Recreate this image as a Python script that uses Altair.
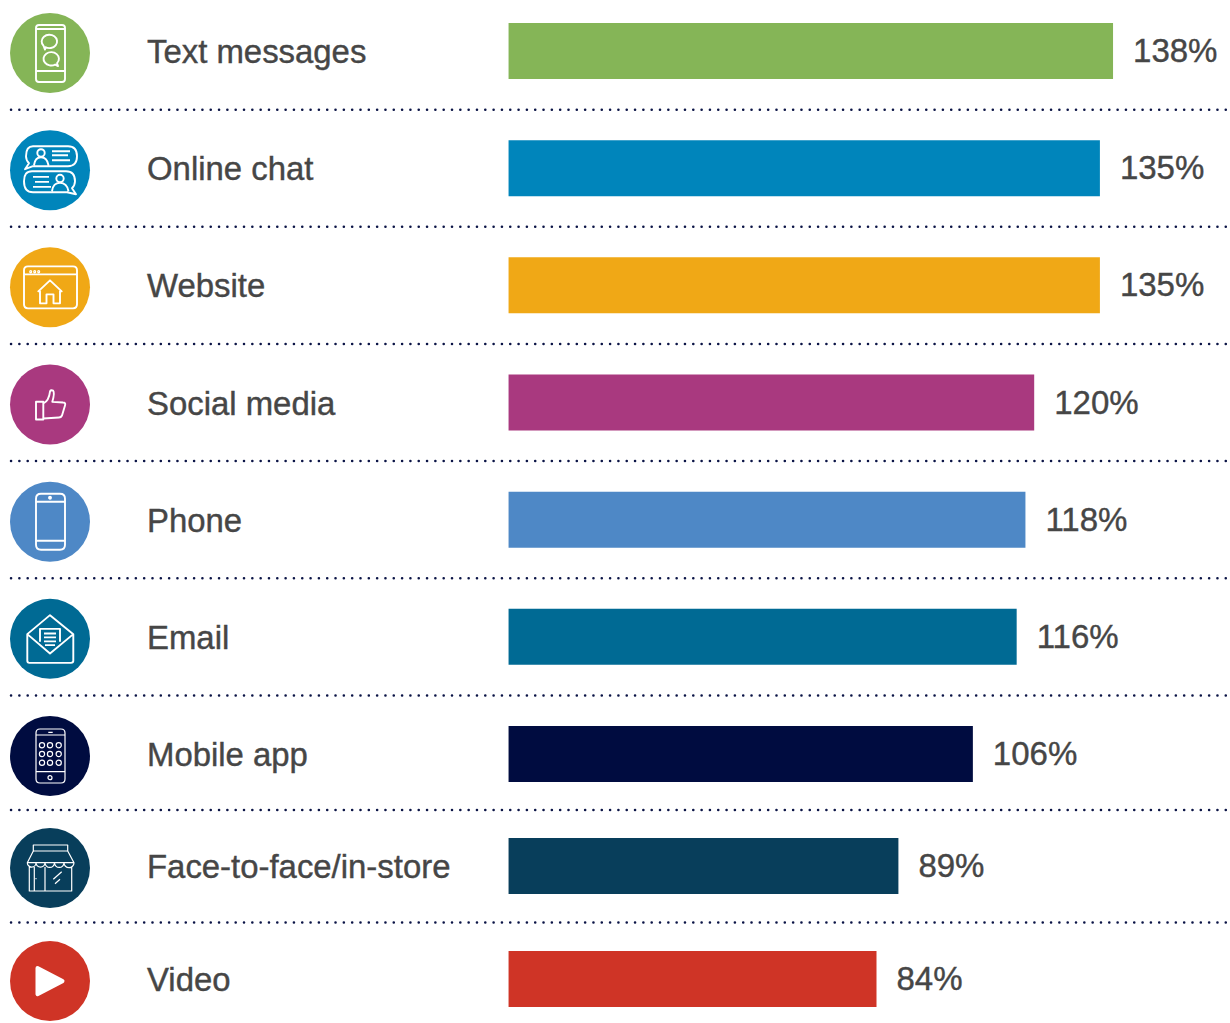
import altair as alt
import pandas as pd

# Chart values
channels = ["Text messages", "Online chat", "Website", "Social media", "Phone",
            "Email", "Mobile app", "Face-to-face/in-store", "Video"]
percent = [138, 135, 135, 120, 118, 116, 106, 89, 84]
colors = ["#85B557", "#0085BB", "#F0A816", "#A9397F", "#4E88C6",
          "#006A94", "#000C40", "#083E5B", "#CF3426"]


# Pictogram helpers: paths are in pixels around the badge centre
def circle(cx, cy, r):
    return f"M{cx-r} {cy}A{r} {r} 0 1 1 {cx+r} {cy}A{r} {r} 0 1 1 {cx-r} {cy}Z"


def rrect(x0, y0, x1, y1, r):
    return (f"M{x0+r} {y0}H{x1-r}Q{x1} {y0} {x1} {y0+r}V{y1-r}Q{x1} {y1} {x1-r} {y1}"
            f"H{x0+r}Q{x0} {y1} {x0} {y1-r}V{y0+r}Q{x0} {y0} {x0+r} {y0}Z")


def hline(x0, x1, y):
    return f"M{x0} {y}H{x1}"


def bubble(cx, cy, rx, ry, tx, ty, side):
    # round speech bubble with a small tail
    s = side
    return (f"M{cx+s*rx*0.5} {cy+ry*0.87}L{tx} {ty}L{cx+s*rx*0.75} {cy+ry*0.66}"
            f"A{rx} {ry} 0 1 {0 if s > 0 else 1} {cx+s*rx*0.5} {cy+ry*0.87}Z")


icon_text = (rrect(-14, -28, 15, 29, 3) + hline(-14, 15, -24) + hline(-14, 15, 18)
             + bubble(-0.7, -11.7, 7.7, 6.7, -5, -3.4, -1)
             + bubble(1.3, 5.7, 7.7, 6.7, 8, 13, 1))
icon_chat = (
    "M-17 -24H18Q27 -24 27 -14Q27 -4 18 -4H-17L-25 -1L-21 -7Q-24 -10 -24 -14Q-24 -24 -17 -24Z"
    + circle(-9, -17.3, 3.7) + "M-16 -5Q-15 -13 -9 -13Q-3 -13 -1.5 -5"
    + hline(2, 20, -19) + hline(2, 18, -15) + hline(2, 20, -10)
    + "M-18 1H16Q25 1 25 11Q25 15 22 18L26 24L17 22H-17Q-26 22 -26 11Q-26 1 -18 1Z"
    + circle(10, 8.3, 3.7) + "M2 21Q3 12.7 10 12.7Q17 12.7 18.5 21"
    + hline(-17, -1, 6.7) + hline(-15, -1, 11.7) + hline(-17, 1, 16.7))
icon_web = (rrect(-26, -21, 27, 21, 4) + hline(-26, 27, -13)
            + circle(-19.3, -15.7, 0.6) + circle(-15.3, -15.7, 0.6) + circle(-11.3, -15.7, 0.6)
            + "M0 -7L11.7 4H10V16H3.5V7H-3.5V16H-10V4H-11.7Z")
icon_like = ("M-14 -2.7H-6.7V15H-14Z"
             "M-6.7 -1Q-1 -4 0 -13Q1 -15 3 -14Q5 -12 2.3 -2.7L13 -2Q16 -2 15 1L12 11Q11 13 9 13L-6.7 14")
icon_phone = (rrect(-14, -28, 15, 28, 5) + hline(-14, 15, -20) + hline(-14, 15, 19)
              + circle(0, -24, 1))
icon_mail = ("M-22.7 -4.7L0 -23.7L23.3 -4.7V22Q23.3 24 21 24H-20.7Q-22.7 24 -22.7 22Z"
             "M-22.7 -4.7L0 14.7L23.3 -4.7"
             "M-10 3V-10H10V3"
             + hline(-6, 6, -5.3) + hline(-6, 6, -1.5) + hline(-6, 6, 2.5) + hline(-5, 5, 6.3))
icon_app = (rrect(-14, -27, 15, 27, 4)
            + hline(-14, 15, -21) + hline(-14, 15, 15.7) + hline(-1.7, 2.7, -23.7)
            + circle(0, 21.7, 2)
            + "".join(circle(x, y, 2.6) for y in (-10.7, -2, 6.7) for x in (-8, 0, 8.7)))
icon_store = ("M-16.7 -17V-23H17.7V-17M-16.7 -17H17.7"
              "M-16.7 -17L-22.7 -5.3H24L17.7 -17"
              "M-22.7 -5.3A2.4 2.4 0 0 0 -14 -5.3A2.4 2.4 0 0 0 -5 -5.3A2.4 2.4 0 0 0 4.5 -5.3"
              "A2.4 2.4 0 0 0 14 -5.3A2.4 2.4 0 0 0 24 -5.3"
              "M-20.7 -1.3V23H21.7V-1.3M-20.7 23H21.7"
              "M-15.7 -1V23M-5 -1V23"
              "M-14.5 10.7H-13.5"
              "M3.3 11.3L11.7 3.7M5 15.7L10 11.3")
icon_play = "M-12.5 -13L12.5 0L-12.5 13Z"
icons = [icon_text, icon_chat, icon_web, icon_like, icon_phone,
         icon_mail, icon_app, icon_store, icon_play]
fine_line_rows = ["Mobile app", "Face-to-face/in-store"]

rows = pd.DataFrame({
    "channel": channels,
    "percent": percent,
    "row": range(len(channels)),
    "icon": icons,
})
rows["label"] = rows["percent"].astype(str) + "%"

# Rows are evenly spaced apart from a tighter gap before the store row
row_scale = alt.Scale(domain=[0, 6, 7, 8], range=[48, 756, 868, 986])
row_y = alt.Y("row:Q", axis=None, scale=row_scale)
value_x = alt.X("percent:Q", axis=None,
                scale=alt.Scale(domain=[-116.1, 164.7], range=[0, 1230]))
channel_color = alt.Color("channel:N", legend=None,
                          scale=alt.Scale(domain=channels, range=colors))
base = alt.Chart(rows)

separators = (
    base.transform_filter("datum.row < 8")
    .transform_calculate(gap="datum.row + 0.5")
    .mark_rule(stroke="#0B1446", strokeWidth=2.5, strokeCap="round",
               strokeDash=[0.1, 8.22], yOffset=-2)
    .encode(y=alt.Y("gap:Q", axis=None, scale=row_scale), x=alt.value(11), x2=alt.value(1230))
)
bars = base.mark_bar(size=56, orient="horizontal", yOffset=-2).encode(
    y=row_y, x=value_x, color=channel_color)
badges = base.mark_circle(size=6400, opacity=1).encode(
    y=row_y, x=alt.value(50), color=channel_color)


def icon_layer(test, width, filled=False):
    return (
        base.transform_filter(test)
        .mark_point(size=4, opacity=1, filled=filled, stroke="white", strokeWidth=width,
                    strokeJoin="round", fill="white" if filled else "transparent")
        .encode(y=row_y, x=alt.value(50), shape=alt.Shape("icon:N", scale=None))
    )


regular = icon_layer(alt.FieldOneOfPredicate("channel", fine_line_rows + ["Video"]).__invert__(), 1.9)
fine = icon_layer(alt.FieldOneOfPredicate("channel", fine_line_rows), 1.2)
play = icon_layer(alt.FieldEqualPredicate(field="channel", equal="Video"), 4, filled=True)

names = base.mark_text(align="left", baseline="middle", font="Liberation Sans",
                       fontSize=32.9, color="#464646",
                       stroke="#464646", strokeWidth=0.4).encode(
    y=row_y, x=alt.value(147), text="channel:N")
values = base.mark_text(align="left", baseline="middle", font="Liberation Sans",
                        fontSize=33, dx=20, dy=-1, color="#464646",
                        stroke="#464646", strokeWidth=0.4).encode(
    y=row_y, x=value_x, text="label:N")

chart = (
    alt.layer(separators, bars, badges, regular, fine, play, names, values)
    .properties(width=1230, height=1023, padding=0, background="white",
                autosize=alt.AutoSizeParams(type="none"))
    .configure_view(stroke=None)
)
chart.save("out.html", embed_options={"renderer": "svg", "actions": False})
